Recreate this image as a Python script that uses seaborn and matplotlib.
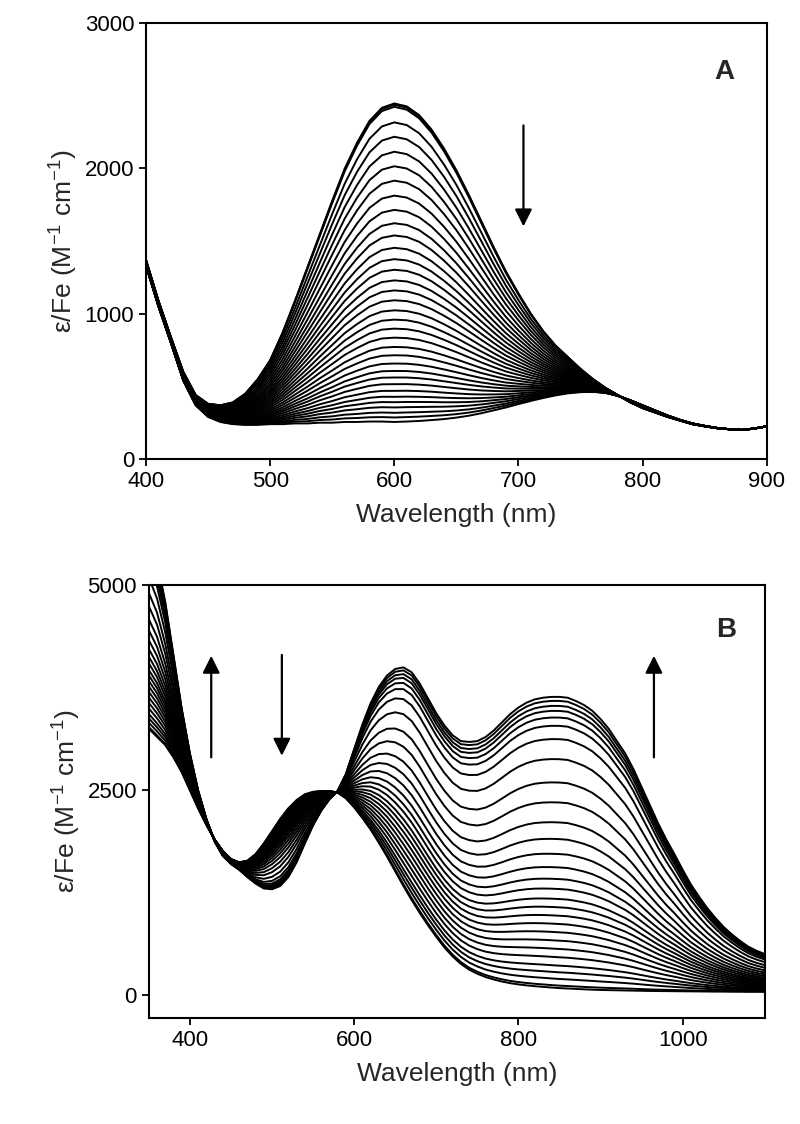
import numpy as np
import pandas as pd
import matplotlib
matplotlib.use('Agg')
import matplotlib.pyplot as plt
import seaborn as sns

# Panel A: spectra read at 10 nm steps, 400-900 nm
wl_a = list(range(400, 901, 10))
start_a = [1370, 1090, 840, 600, 440, 380, 370, 390, 450, 550,
           680, 870, 1090, 1320, 1550, 1780, 2000, 2180, 2330, 2420,
           2450, 2430, 2370, 2270, 2140, 1990, 1820, 1640, 1460, 1290,
           1140, 1000, 880, 780, 700, 620, 550, 490, 440, 390,
           350, 320, 290, 265, 240, 225, 212, 205, 200, 210, 225]
end_a = [1330, 1050, 800, 540, 370, 290, 255, 240, 235, 235,
         240, 240, 245, 245, 250, 250, 255, 255, 258, 258,
         255, 258, 262, 268, 275, 285, 298, 315, 335, 355,
         378, 400, 420, 438, 452, 460, 462, 455, 435, 405,
         370, 335, 300, 270, 245, 228, 214, 205, 200, 210, 225]
# height of every trace at 600 nm
peak600_a = [2446, 2437, 2423, 2316, 2217, 2114, 2014, 1915, 1812, 1714,
             1622, 1538, 1453, 1375, 1302, 1229, 1160, 1092, 1023, 959,
             897, 835, 771, 714, 657, 606, 561, 515, 469, 428,
             391, 355, 318, 286, 255]

# Panel B: spectra read at 10 nm steps, 350-1100 nm
wl_b = list(range(350, 1101, 10))
start_b = [3250, 3150, 3050, 2900, 2720, 2500, 2280, 2080, 1900, 1760,
           1660, 1620, 1640, 1720, 1850, 2000, 2150, 2280, 2380, 2450,
           2480, 2490, 2490, 2470, 2400, 2290, 2160, 2020, 1860, 1690,
           1510, 1330, 1160, 1000, 850, 710, 580, 470, 380, 310,
           260, 220, 190, 165, 145, 130, 118, 108, 100, 92,
           85, 80, 75, 70, 66, 62, 60, 58, 56, 54,
           52, 50, 49, 48, 47, 46, 45, 44, 43, 42,
           42, 41, 41, 40, 40, 40]
end_b = [5600, 5300, 4800, 4150, 3500, 2950, 2500, 2150, 1880, 1700,
         1600, 1530, 1440, 1360, 1300, 1290, 1330, 1440, 1620, 1850,
         2070, 2250, 2390, 2490, 2700, 3000, 3300, 3560, 3760, 3900,
         3980, 4000, 3940, 3800, 3620, 3440, 3290, 3170, 3100, 3090,
         3100, 3150, 3230, 3330, 3430, 3510, 3570, 3610, 3630, 3640,
         3640, 3630, 3590, 3540, 3470, 3370, 3250, 3100, 2950, 2760,
         2540, 2320, 2100, 1900, 1720, 1530, 1350, 1200, 1060, 940,
         830, 740, 660, 590, 540, 500]
# height of every trace at 840 nm
band840_b = [3638, 3589, 3528, 3467, 3386, 3285, 3123, 2879, 2595, 2352,
             2109, 1906, 1724, 1561, 1419, 1298, 1176, 1075, 973, 872,
             771, 669, 568, 467, 365, 284, 203, 122, 92]

arrows_a = [((704, 2295), (704, 1600))]
arrows_b = [((426, 2900), (426, 4140)), ((512, 4150), (512, 2920)),
            ((965, 2900), (965, 4140))]


def family(wl, start, end, heights, ref_idx):
    start = np.array(start, float)
    end = np.array(end, float)
    rows = []
    for i, h in enumerate(heights):
        f = (h - end[ref_idx]) / (start[ref_idx] - end[ref_idx])
        spec = end + f * (start - end)
        rows.append(pd.DataFrame({'wl': wl, 'eps': spec, 'curve': i}))
    return pd.concat(rows, ignore_index=True)


df_a = family(wl_a, start_a, end_a, peak600_a, wl_a.index(600))
df_b = family(wl_b, end_b, start_b, band840_b, wl_b.index(840))

sns.set_style('ticks')
plt.rcParams['font.family'] = ['Liberation Sans', 'DejaVu Sans']
plt.rcParams['mathtext.default'] = 'regular'
plt.rcParams['axes.linewidth'] = 1.5

fig = plt.figure(figsize=(8, 11.24), dpi=100)
ax_a = fig.add_axes([0.1825, 0.5916, 0.776, 0.388])
ax_b = fig.add_axes([0.186, 0.0943, 0.770, 0.385])

ylab = r'ε/Fe (M$^{-1}$ cm$^{-1}$)'

for ax, df, arrows in [(ax_a, df_a, arrows_a), (ax_b, df_b, arrows_b)]:
    sns.lineplot(data=df, x='wl', y='eps', units='curve', estimator=None,
                 color='black', lw=1.4, legend=False, ax=ax, sort=False)
    for tail, tip in arrows:
        ax.annotate('', xy=tip, xytext=tail,
                    arrowprops=dict(arrowstyle='-|>', color='black', lw=1.6,
                                    mutation_scale=26, shrinkA=0, shrinkB=0))
    for s in ax.spines.values():
        s.set_visible(True)
        s.set_color('black')
    ax.tick_params(direction='out', length=5, width=1.3, labelsize=16,
                   colors='black', top=False, right=False)
    ax.set_xlabel('Wavelength (nm)', fontsize=19, labelpad=8)
    ax.set_ylabel(ylab, fontsize=19, labelpad=3)

ax_a.set_xlim(400, 900)
ax_a.set_ylim(0, 3000)
ax_a.set_xticks([400, 500, 600, 700, 800, 900])
ax_a.set_yticks([0, 1000, 2000, 3000])
ax_a.text(866, 2660, 'A', fontsize=20, fontweight='bold', ha='center', va='center')

ax_b.set_xlim(350, 1100)
ax_b.set_ylim(-280, 5000)
ax_b.set_xticks([400, 600, 800, 1000])
ax_b.set_yticks([0, 2500, 5000])
ax_b.text(1053, 4460, 'B', fontsize=20, fontweight='bold', ha='center', va='center')

fig.savefig('out.png', dpi=100)
